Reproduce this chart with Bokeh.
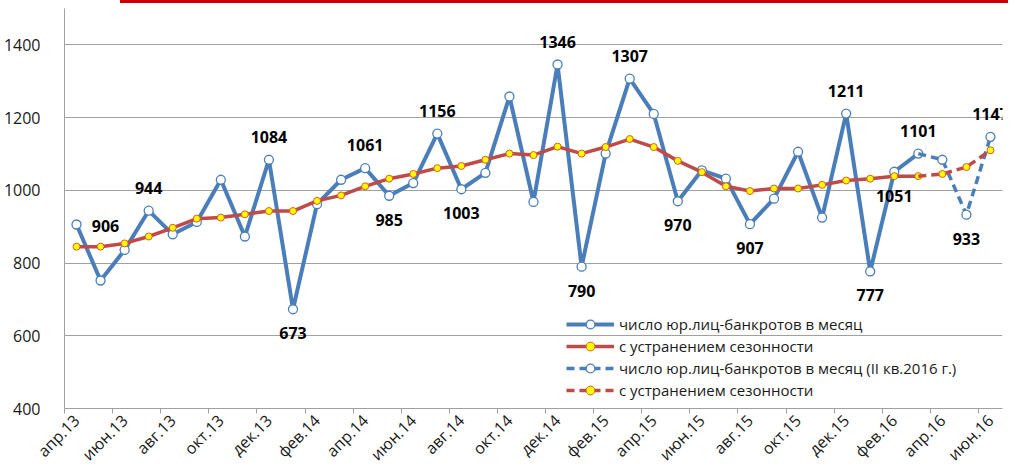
import math
from bokeh.plotting import figure
from bokeh.layouts import column
from bokeh.models import ColumnDataSource, Range1d, FixedTicker, Legend, LegendItem, Div, LabelSet
from bokeh.core.properties import value
from bokeh.embed import file_html
from bokeh.resources import INLINE

# ---------------- data ----------------
months = ["апр.13", "май.13", "июн.13", "июл.13", "авг.13", "сен.13", "окт.13", "ноя.13", "дек.13",
          "янв.14", "фев.14", "мар.14", "апр.14", "май.14", "июн.14", "июл.14", "авг.14", "сен.14",
          "окт.14", "ноя.14", "дек.14", "янв.15", "фев.15", "мар.15", "апр.15", "май.15", "июн.15",
          "июл.15", "авг.15", "сен.15", "окт.15", "ноя.15", "дек.15", "янв.16", "фев.16", "мар.16",
          "апр.16", "май.16", "июн.16"]

bankrupts = [906, 752, 836, 944, 879, 913, 1029, 873, 1084, 673, 962, 1029, 1061, 985, 1020, 1156,
             1003, 1048, 1258, 968, 1346, 790, 1101, 1307, 1210, 970, 1055, 1032, 907, 977, 1106,
             925, 1211, 777, 1051, 1101, 1084, 933, 1147]

seasonal = [845, 845, 854, 873, 897, 922, 925, 934, 943, 943, 971, 986, 1011, 1032, 1045, 1061,
            1067, 1084, 1101, 1097, 1120, 1101, 1119, 1141, 1119, 1081, 1050, 1011, 998, 1005, 1005,
            1015, 1027, 1032, 1039, 1039, 1045, 1064, 1110]

n_actual = 36  # апр.13 .. мар.16 solid; апр.16 .. июн.16 = II кв.2016 (dashed)

labeled = [0, 3, 8, 9, 12, 13, 15, 16, 20, 21, 23, 25, 28, 32, 33, 34, 35, 37, 38]
placement = ["right", "above", "above", "below", "above", "below", "above", "below", "above",
             "below", "above", "below", "below", "above", "below", "below", "above", "below", "above"]

tick_labels = months[::2]

legend_labels = ["число юр.лиц-банкротов в месяц",
                 "с устранением сезонности",
                 "число юр.лиц-банкротов в месяц (II кв.2016 г.)",
                 "с устранением сезонности"]

# ---------------- styling ----------------
BLUE = "#4a7ebb"
RED = "#be4b48"
GRID = "#a0a0a0"
FONT = "Open Sans"

xs = list(range(len(months)))

p = figure(width=1008, height=472, output_backend="svg", toolbar_location=None,
           x_range=Range1d(-0.5, len(months) - 0.5), y_range=Range1d(400, 1500),
           min_border_left=53, min_border_right=6, min_border_top=5, min_border_bottom=67)
p.outline_line_color = None
p.background_fill_color = "white"
p.border_fill_color = "white"

# axes
p.yaxis.ticker = FixedTicker(ticks=[400, 600, 800, 1000, 1200, 1400])
p.yaxis.major_tick_line_color = None
p.yaxis.minor_tick_line_color = None
p.yaxis.axis_line_color = GRID
p.yaxis.major_label_standoff = 18
p.yaxis.major_label_text_font = FONT
p.yaxis.major_label_text_font_size = "16px"
p.yaxis.major_label_text_color = "#1a1a1a"

p.xaxis.ticker = FixedTicker(ticks=xs[::2], minor_ticks=[x - 0.5 for x in xs[::2]])
p.xaxis.major_label_overrides = {x: lab for x, lab in zip(xs[::2], tick_labels)}
p.xaxis.major_tick_line_color = None
p.xaxis.major_tick_out = 0
p.xaxis.major_tick_in = 0
p.xaxis.minor_tick_line_color = GRID
p.xaxis.minor_tick_out = 5
p.xaxis.minor_tick_in = 0
p.xaxis.axis_line_color = GRID
p.xaxis.major_label_orientation = math.pi / 4
p.xaxis.major_label_standoff = 4
p.xaxis.major_label_text_font = FONT
p.xaxis.major_label_text_font_size = "16px"
p.xaxis.major_label_text_color = "#1a1a1a"

p.xgrid.grid_line_color = None
p.ygrid.grid_line_color = GRID
p.ygrid.grid_line_width = 1

# series
a_src = ColumnDataSource(dict(x=xs[:n_actual], y=bankrupts[:n_actual]))
s_src = ColumnDataSource(dict(x=xs[:n_actual], y=seasonal[:n_actual]))
a2_line = ColumnDataSource(dict(x=xs[n_actual - 1:], y=bankrupts[n_actual - 1:]))
a2_pts = ColumnDataSource(dict(x=xs[n_actual:], y=bankrupts[n_actual:]))
s2_line = ColumnDataSource(dict(x=xs[n_actual - 1:], y=seasonal[n_actual - 1:]))
s2_pts = ColumnDataSource(dict(x=xs[n_actual:], y=seasonal[n_actual:]))

r1l = p.line("x", "y", source=a_src, line_color=BLUE, line_width=4, line_join="round")
r1m = p.scatter("x", "y", source=a_src, size=9, fill_color="white", line_color=BLUE, line_width=1.3)
r2l = p.line("x", "y", source=s_src, line_color=RED, line_width=3.5, line_join="round")
r2m = p.scatter("x", "y", source=s_src, size=7, fill_color="#ffff00", line_color="#e05a20", line_width=1)

r3l = p.line("x", "y", source=a2_line, line_color=BLUE, line_width=3.5, line_dash="8 5")
r3m = p.scatter("x", "y", source=a2_pts, size=9, fill_color="white", line_color=BLUE, line_width=1.3)
r4l = p.line("x", "y", source=s2_line, line_color=RED, line_width=3.5, line_dash="8 5")
r4m = p.scatter("x", "y", source=s2_pts, size=7, fill_color="#ffff00", line_color="#e05a20", line_width=1)

# data labels (LabelSet: positive y_offset moves up)
lx, ly, lt, xo, yo = [], [], [], [], []
for i, pos in zip(labeled, placement):
    lx.append(xs[i])
    ly.append(bankrupts[i])
    lt.append(str(bankrupts[i]))
    if pos == "right":
        xo.append(29); yo.append(-1)
    elif pos == "above":
        xo.append(0); yo.append(23)
    else:
        xo.append(0); yo.append(-24)
lab_src = ColumnDataSource(dict(x=lx, y=ly, t=lt, xo=xo, yo=yo))
labels = LabelSet(x="x", y="y", text="t", source=lab_src, x_offset="xo", y_offset="yo",
                  text_font=value(FONT), text_font_style="bold", text_font_size="16px",
                  text_color="black", text_align="center", text_baseline="middle")
p.add_layout(labels)

legend = Legend(items=[
    LegendItem(label=legend_labels[0], renderers=[r1l, r1m]),
    LegendItem(label=legend_labels[1], renderers=[r2l, r2m]),
    LegendItem(label=legend_labels[2], renderers=[r3l, r3m]),
    LegendItem(label=legend_labels[3], renderers=[r4l, r4m]),
], location=(502, 7))
legend.background_fill_alpha = 0
legend.border_line_color = None
legend.padding = 0
legend.margin = 0
legend.spacing = 0
legend.glyph_width = 48
legend.glyph_height = 22
legend.label_height = 22
legend.label_standoff = 5
legend.label_text_font = FONT
legend.label_text_font_size = "15px"
legend.label_text_color = "#1a1a1a"
p.add_layout(legend, "center")

# decorative red rule along the top edge
bar = Div(text="", width=888, height=3, margin=(0, 0, 0, 120),
          styles={"background-color": "#cc0000"})

layout = column(bar, p, spacing=0)

open("out.html", "w").write(file_html(layout, INLINE))
